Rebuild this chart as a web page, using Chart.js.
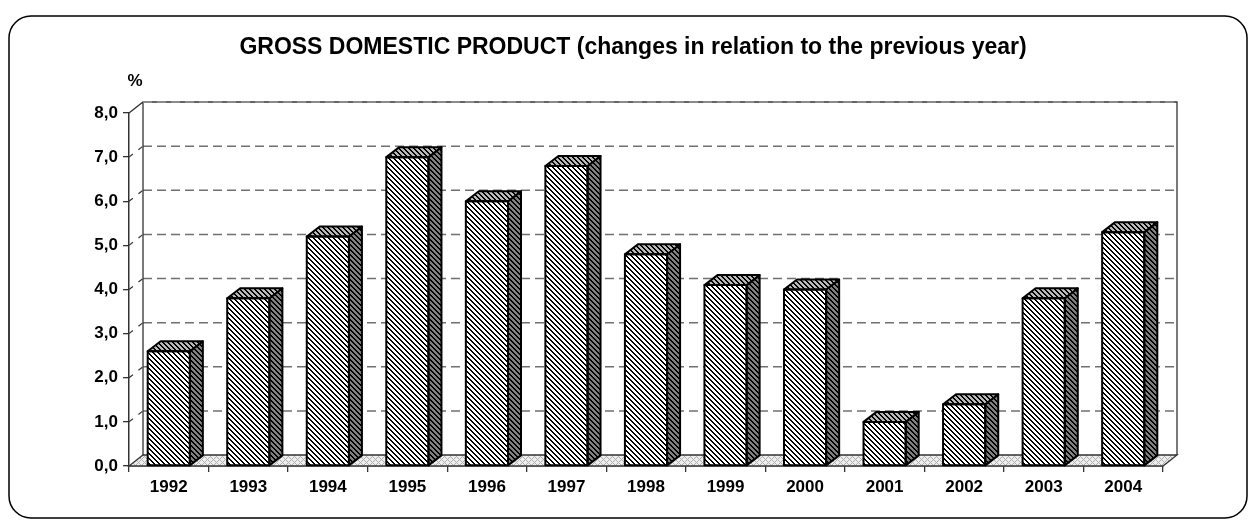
<!DOCTYPE html>
<html lang="en">
<head>
    <meta charset="UTF-8">
    <title>Gross Domestic Product</title>
    <script src="https://cdn.jsdelivr.net/npm/chart.js"></script>
    <style>
        body {
            margin: 0;
            padding: 0;
            background: #ffffff;
        }
        canvas {
            display: block;
        }
    </style>
</head>
<body>
    <canvas id="gdpChart" width="1248" height="520"></canvas>

    <script>
        // data
        const years = ["1992", "1993", "1994", "1995", "1996", "1997", "1998",
                       "1999", "2000", "2001", "2002", "2003", "2004"];
        const gdpChange = [2.6, 3.8, 5.2, 7.0, 6.0, 6.8, 4.8, 4.1, 4.0, 1.0, 1.4, 3.8, 5.3];
        const yMin = 0;
        const yMax = 8;
        const yStep = 1;

        const titleText = "GROSS DOMESTIC PRODUCT (changes in relation to the previous year)";
        const unitText = "%";
        const FONT = "Arial, 'Liberation Sans', sans-serif";

        // 3D depth of the back wall and of the bars
        const wallDx = 14, wallDy = -11;
        const barDx = 13, barDy = -10;

        // little pixel patterns for the hatching
        function makePattern(size, pick) {
            const c = document.createElement("canvas");
            c.width = size;
            c.height = size;
            const g = c.getContext("2d");
            const img = g.createImageData(size, size);
            for (let y = 0; y < size; y++) {
                for (let x = 0; x < size; x++) {
                    const col = pick(x, y);
                    const i = (y * size + x) * 4;
                    img.data[i] = col[0];
                    img.data[i + 1] = col[1];
                    img.data[i + 2] = col[2];
                    img.data[i + 3] = 255;
                }
            }
            g.putImageData(img, 0, 0);
            return g.createPattern(c, "repeat");
        }

        function stripes(bg, fg) {
            return makePattern(5, (x, y) => (((x - y) % 5 + 5) % 5) < 2 ? fg : bg);
        }

        const frontHatch = stripes([255, 255, 255], [0, 0, 0]);
        const sideHatch = stripes([128, 128, 128], [0, 0, 0]);
        const topHatch = stripes([185, 185, 185], [0, 0, 0]);
        const floorHatch = makePattern(6, (x, y) =>
            ((x + y) % 6 === 0 || ((x - y) % 6 + 6) % 6 === 0) ? [175, 175, 175] : [238, 238, 238]);

        const decorPlugin = {
            id: "decor",
            beforeDraw(chart) {
                const ctx = chart.ctx;
                ctx.save();
                // outer rounded frame
                ctx.strokeStyle = "#000";
                ctx.lineWidth = 1.5;
                ctx.beginPath();
                ctx.roundRect(9, 16, 1238, 502, 22);
                ctx.stroke();

                // title and unit
                ctx.fillStyle = "#000";
                ctx.textAlign = "center";
                ctx.textBaseline = "alphabetic";
                ctx.font = "bold 23px " + FONT;
                ctx.fillText(titleText, 633, 54);
                ctx.font = "bold 17px " + FONT;
                ctx.fillText(unitText, 135, 86);
                ctx.restore();
            },
            beforeDatasetsDraw(chart) {
                const ctx = chart.ctx;
                const a = chart.chartArea;
                const ys = chart.scales.y;
                const bottom = ys.getPixelForValue(yMin);
                const top = ys.getPixelForValue(yMax);
                ctx.save();

                // floor
                ctx.beginPath();
                ctx.moveTo(a.left, bottom);
                ctx.lineTo(a.right, bottom);
                ctx.lineTo(a.right + wallDx, bottom + wallDy);
                ctx.lineTo(a.left + wallDx, bottom + wallDy);
                ctx.closePath();
                ctx.fillStyle = floorHatch;
                ctx.fill();
                ctx.strokeStyle = "#333";
                ctx.lineWidth = 1.3;
                ctx.stroke();

                // dashed grid on the back wall and on the side
                for (let v = yMin + yStep; v < yMax; v += yStep) {
                    const py = ys.getPixelForValue(v);
                    ctx.strokeStyle = "#707070";
                    ctx.lineWidth = 1.5;
                    ctx.setLineDash([9, 5]);
                    ctx.beginPath();
                    ctx.moveTo(a.left + wallDx, py + wallDy);
                    ctx.lineTo(a.right + wallDx, py + wallDy);
                    ctx.stroke();
                    ctx.strokeStyle = "#333";
                    ctx.lineWidth = 1.2;
                    ctx.setLineDash([5, 7]);
                    ctx.beginPath();
                    ctx.moveTo(a.left, py);
                    ctx.lineTo(a.left + wallDx, py + wallDy);
                    ctx.stroke();
                }
                ctx.setLineDash([]);

                // top edge and corners of the wall
                ctx.strokeStyle = "#333";
                ctx.lineWidth = 1.3;
                ctx.beginPath();
                ctx.moveTo(a.left, top);
                ctx.lineTo(a.left + wallDx, top + wallDy);
                ctx.lineTo(a.right + wallDx, top + wallDy);
                ctx.lineTo(a.right + wallDx, bottom + wallDy);
                ctx.moveTo(a.left + wallDx, top + wallDy);
                ctx.lineTo(a.left + wallDx, bottom + wallDy);
                ctx.stroke();
                ctx.strokeStyle = "#999";
                ctx.setLineDash([9, 5]);
                ctx.beginPath();
                ctx.moveTo(a.left + wallDx, top + wallDy);
                ctx.lineTo(a.right + wallDx, top + wallDy);
                ctx.stroke();
                ctx.restore();
            },
            afterDatasetsDraw(chart) {
                const ctx = chart.ctx;
                const bars = chart.getDatasetMeta(0).data;
                ctx.save();
                ctx.strokeStyle = "#000";
                ctx.lineWidth = 2;
                ctx.lineJoin = "round";
                bars.forEach(bar => {
                    const p = bar.getProps(["x", "y", "base", "width"], true);
                    const left = p.x - p.width / 2;
                    const right = p.x + p.width / 2;

                    // side face
                    ctx.beginPath();
                    ctx.moveTo(right, p.y);
                    ctx.lineTo(right + barDx, p.y + barDy);
                    ctx.lineTo(right + barDx, p.base + barDy);
                    ctx.lineTo(right, p.base);
                    ctx.closePath();
                    ctx.fillStyle = sideHatch;
                    ctx.fill();
                    ctx.stroke();

                    // top face
                    ctx.beginPath();
                    ctx.moveTo(left, p.y);
                    ctx.lineTo(left + barDx, p.y + barDy);
                    ctx.lineTo(right + barDx, p.y + barDy);
                    ctx.lineTo(right, p.y);
                    ctx.closePath();
                    ctx.fillStyle = topHatch;
                    ctx.fill();
                    ctx.stroke();

                    // front outline again so it sits on top
                    ctx.strokeRect(left, p.y, p.width, p.base - p.y);
                });
                ctx.restore();
            }
        };

        const ctx = document.getElementById("gdpChart").getContext("2d");
        const gdpChart = new Chart(ctx, {
            type: "bar",
            data: {
                labels: years,
                datasets: [{
                    label: "GDP change (%)",
                    data: gdpChange,
                    backgroundColor: frontHatch,
                    borderColor: "#000",
                    borderWidth: 0,
                    barPercentage: 0.53,
                    categoryPercentage: 1.0
                }]
            },
            options: {
                responsive: false,
                animation: false,
                devicePixelRatio: 1,
                layout: {
                    padding: { left: 0, right: 85, top: 113, bottom: 0 }
                },
                plugins: {
                    legend: { display: false },
                    title: { display: false },
                    tooltip: { enabled: false }
                },
                scales: {
                    x: {
                        afterFit: scale => { scale.height = 54; },
                        grid: {
                            offset: true,
                            drawOnChartArea: false,
                            tickLength: 6,
                            color: "#333",
                            lineWidth: 1.3
                        },
                        border: { display: true, color: "#333", width: 1.3 },
                        ticks: {
                            color: "#000",
                            padding: 5,
                            font: { family: FONT, size: 17, weight: "bold" }
                        }
                    },
                    y: {
                        min: yMin,
                        max: yMax,
                        afterFit: scale => { scale.width = 129; },
                        grid: {
                            drawOnChartArea: false,
                            tickLength: 6,
                            color: "#333",
                            lineWidth: 1.3
                        },
                        border: { display: true, color: "#333", width: 1.5 },
                        ticks: {
                            stepSize: yStep,
                            color: "#000",
                            padding: 5,
                            font: { family: FONT, size: 17, weight: "bold" },
                            callback: value => value.toFixed(1).replace(".", ",")
                        }
                    }
                }
            },
            plugins: [decorPlugin]
        });
    </script>
</body>
</html>
